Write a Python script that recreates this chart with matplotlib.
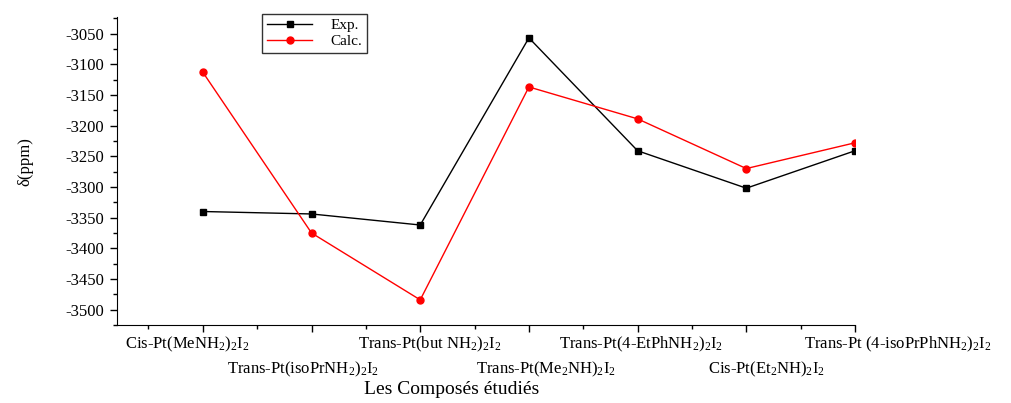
import numpy as np
import matplotlib.pyplot as plt
from matplotlib.ticker import MultipleLocator

# données
composes = [
    r"Cis-Pt(MeNH$_2$)$_2$I$_2$",
    r"Trans-Pt(isoPrNH$_2$)$_2$I$_2$",
    r"Trans-Pt(but NH$_2$)$_2$I$_2$",
    r"Trans-Pt(Me$_2$NH)$_2$I$_2$",
    r"Trans-Pt(4-EtPhNH$_2$)$_2$I$_2$",
    r"Cis-Pt(Et$_2$NH)$_2$I$_2$",
    r"Trans-Pt (4-isoPrPhNH$_2$)$_2$I$_2$",
]
x_pos = [1, 2, 3, 4, 5, 6, 7]
delta_exp = [-3340, -3344, -3362, -3057, -3241, -3302, -3241]
delta_calc = [-3113, -3375, -3484, -3137, -3189, -3270, -3228]

plt.rcParams['font.family'] = ['Liberation Serif', 'DejaVu Serif']
plt.rcParams['mathtext.fontset'] = 'custom'
plt.rcParams['mathtext.rm'] = 'Liberation Serif'
plt.rcParams['mathtext.it'] = 'Liberation Serif'
plt.rcParams['axes.unicode_minus'] = False

fig = plt.figure(figsize=(10.11, 4.03), dpi=100)
ax = fig.add_axes([0.1157, 0.1935, 0.73, 0.7643])

ax.plot(x_pos, delta_exp, color='black', lw=1.0, marker='s', ms=5, label='Exp.')
ax.plot(x_pos, delta_calc, color='red', lw=1.0, marker='o', ms=5, label='Calc.')

ax.set_xlim(0.21, 7)
ax.set_ylim(-3525, -3023)

ax.spines['top'].set_visible(False)
ax.spines['right'].set_visible(False)

ax.yaxis.set_major_locator(MultipleLocator(50))
ax.yaxis.set_minor_locator(MultipleLocator(25))
ax.xaxis.set_minor_locator(MultipleLocator(0.5))
ax.set_xticks(x_pos)
ax.set_xticklabels([])
ax.tick_params(axis='both', which='major', direction='out', length=5, width=1)
ax.tick_params(axis='both', which='minor', direction='out', length=3, width=1)
ax.tick_params(axis='y', labelsize=12, pad=4)

# étiquettes en quinconce sous l'axe (décalage horizontal en pixels)
decalage_px = [-16, -8, 9, 17, 3, 20, 43]
for i, (xp, nom) in enumerate(zip(x_pos, composes)):
    dy = -0.032 if i % 2 == 0 else -0.112
    ax.text(xp + decalage_px[i] / 108.7, dy, nom, transform=ax.get_xaxis_transform(),
            ha='center', va='top', fontsize=12)

fig.text(0.447, 0.012, "Les Composés étudiés", ha='center', va='bottom', fontsize=14)
fig.text(0.025, 0.598, "δ(ppm)", rotation=90, ha='center', va='center', fontsize=12)

ax.legend(loc='upper left', bbox_to_anchor=(262 / 1011, 1 - 14 / 403),
          bbox_transform=fig.transFigure, fontsize=11, frameon=True,
          fancybox=False, edgecolor='black', borderpad=0.3,
          handlelength=3.0, labelspacing=0.15, handletextpad=1.2,
          borderaxespad=0)

fig.savefig("out.png", dpi=100)
